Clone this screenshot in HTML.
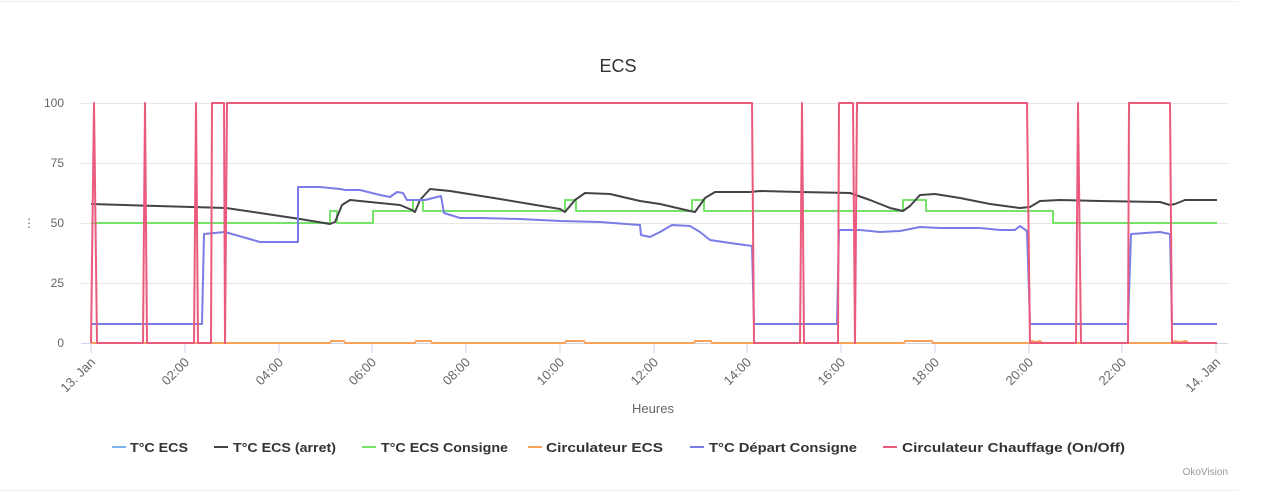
<!DOCTYPE html><html><head><meta charset="utf-8"><style>body{margin:0;background:#fff;width:1280px;height:495px;overflow:hidden;font-family:"Liberation Sans",sans-serif}</style></head><body>
<svg width="1280" height="495" xmlns="http://www.w3.org/2000/svg" font-family="Liberation Sans, sans-serif">
<line x1="0" y1="1.5" x2="1238" y2="1.5" stroke="#eee"/>
<line x1="0" y1="490.5" x2="1238" y2="490.5" stroke="#eee"/>
<text x="618" y="72" font-size="18" fill="#333" text-anchor="middle">ECS</text>
<g stroke="#e6e6e6" stroke-width="1">
<line x1="81" y1="103.5" x2="1228" y2="103.5"/><line x1="81" y1="163.5" x2="1228" y2="163.5"/><line x1="81" y1="223.5" x2="1228" y2="223.5"/><line x1="81" y1="283.5" x2="1228" y2="283.5"/></g>
<line x1="81" y1="343.5" x2="1228" y2="343.5" stroke="#ccd6eb"/>
<g font-size="12" fill="#666" text-anchor="end">
<text x="64" y="107">100</text><text x="64" y="167">75</text><text x="64" y="227">50</text><text x="64" y="287">25</text><text x="64" y="347">0</text></g>
<text x="29" y="227" font-size="12" fill="#666" text-anchor="middle">⋮</text>
<g stroke="#ccd6eb"><line x1="91" y1="343" x2="91" y2="353"/><line x1="185" y1="343" x2="185" y2="353"/><line x1="279" y1="343" x2="279" y2="353"/><line x1="372" y1="343" x2="372" y2="353"/><line x1="466" y1="343" x2="466" y2="353"/><line x1="560" y1="343" x2="560" y2="353"/><line x1="654" y1="343" x2="654" y2="353"/><line x1="747" y1="343" x2="747" y2="353"/><line x1="841" y1="343" x2="841" y2="353"/><line x1="935" y1="343" x2="935" y2="353"/><line x1="1029" y1="343" x2="1029" y2="353"/><line x1="1122" y1="343" x2="1122" y2="353"/><line x1="1216" y1="343" x2="1216" y2="353"/></g>
<g font-size="13" fill="#666" text-anchor="end">
<text transform="translate(96,363) rotate(-45)">13. Jan</text>
<text transform="translate(190,363) rotate(-45)">02:00</text>
<text transform="translate(284,363) rotate(-45)">04:00</text>
<text transform="translate(377,363) rotate(-45)">06:00</text>
<text transform="translate(471,363) rotate(-45)">08:00</text>
<text transform="translate(565,363) rotate(-45)">10:00</text>
<text transform="translate(659,363) rotate(-45)">12:00</text>
<text transform="translate(752,363) rotate(-45)">14:00</text>
<text transform="translate(846,363) rotate(-45)">16:00</text>
<text transform="translate(940,363) rotate(-45)">18:00</text>
<text transform="translate(1034,363) rotate(-45)">20:00</text>
<text transform="translate(1127,363) rotate(-45)">22:00</text>
<text transform="translate(1221,363) rotate(-45)">14. Jan</text></g>
<text x="653" y="413" font-size="13" fill="#666" text-anchor="middle">Heures</text>
<g fill="none" stroke-linejoin="round">
<polyline stroke="#f7a35c" stroke-width="2" points="91,343 330,343 331,341 344,341 345,343 415,343 416,341 431,341 432,343 565,343 566,341 584,341 585,343 694,343 695,341 711,341 712,343 904,343 905,341 932,341 933,343 1030,343 1032,341 1036,342 1040,341 1042,343 1172,343 1175,341 1180,342 1186,341 1188,343 1217,343"/>
<polyline stroke="#77e36b" stroke-width="2" points="91,223 330,223 330,211 337,211 337,223 373,223 373,211 413,211 413,200 423,200 423,211 565,211 565,200 576,200 576,211 692,211 692,200 704,200 704,211 903,211 903,200 926,200 926,211 1053,211 1053,223 1217,223"/>
<polyline stroke="#434348" stroke-width="2" points="91,204 226,208 260,213 300,219 330,224 335,222 342,205 350,200 370,202 400,205 412,210 415,212 420,200 430,189 450,191 500,199 560,209 565,212 575,200 585,193 610,194 640,201 660,204 690,211 695,212 705,198 715,192 750,192 760,191 800,192 850,193 870,200 890,208 903,211 910,206 920,195 935,194 960,198 990,204 1020,208 1030,207 1040,201 1060,200 1100,201 1160,202 1170,205 1175,204 1185,200 1217,200"/>
<polyline stroke="#7b7be8" stroke-width="2" points="91,324 202,324 204,234 225,232 260,242 298,242 298,187 320,187 340,189 345,190 360,190 380,195 390,197 397,192 403,193 407,200 415,200 425,200 441,196 444,213 460,218 480,218 520,219 560,221 600,222 640,225 641,235 650,237 660,232 672,225 690,226 700,232 710,240 730,243 752,246 754,324 837,324 839,230 860,230 880,232 900,231 920,227 940,228 980,228 1000,230 1015,230 1020,226 1027,231 1030,324 1128,324 1131,234 1160,232 1170,234 1172,324 1217,324"/>
<polyline stroke="#ea5a7c" stroke-width="2" points="91,343 94,103 97,343 143,343 145,103 147,343 194,343 196,103 198,343 211,343 212,103 224,103 225,343 227,103 752,103 754,343 800,343 802,103 804,343 838,343 839,103 853,103 855,343 857,103 1027,103 1030,343 1076,343 1078,103 1081,343 1128,343 1129,103 1170,103 1172,343 1217,343"/>
</g>
<g font-size="13" font-weight="bold" fill="#333">
<line x1="112" y1="447" x2="126" y2="447" stroke="#7cb5ec" stroke-width="2"/><text x="130" y="452" textLength="58" lengthAdjust="spacingAndGlyphs">T°C ECS</text>
<line x1="214" y1="447" x2="228" y2="447" stroke="#434348" stroke-width="2"/><text x="233" y="452" textLength="103" lengthAdjust="spacingAndGlyphs">T°C ECS (arret)</text>
<line x1="362" y1="447" x2="376" y2="447" stroke="#77e36b" stroke-width="2"/><text x="381" y="452" textLength="127" lengthAdjust="spacingAndGlyphs">T°C ECS Consigne</text>
<line x1="528" y1="447" x2="542" y2="447" stroke="#f7a35c" stroke-width="2"/><text x="546" y="452" textLength="117" lengthAdjust="spacingAndGlyphs">Circulateur ECS</text>
<line x1="690" y1="447" x2="704" y2="447" stroke="#7b7be8" stroke-width="2"/><text x="709" y="452" textLength="148" lengthAdjust="spacingAndGlyphs">T°C Départ Consigne</text>
<line x1="883" y1="447" x2="897" y2="447" stroke="#ea5a7c" stroke-width="2"/><text x="902" y="452" textLength="223" lengthAdjust="spacingAndGlyphs">Circulateur Chauffage (On/Off)</text>
</g>
<text x="1228" y="475" font-size="10" fill="#999" text-anchor="end">OkoVision</text>
</svg></body></html>
